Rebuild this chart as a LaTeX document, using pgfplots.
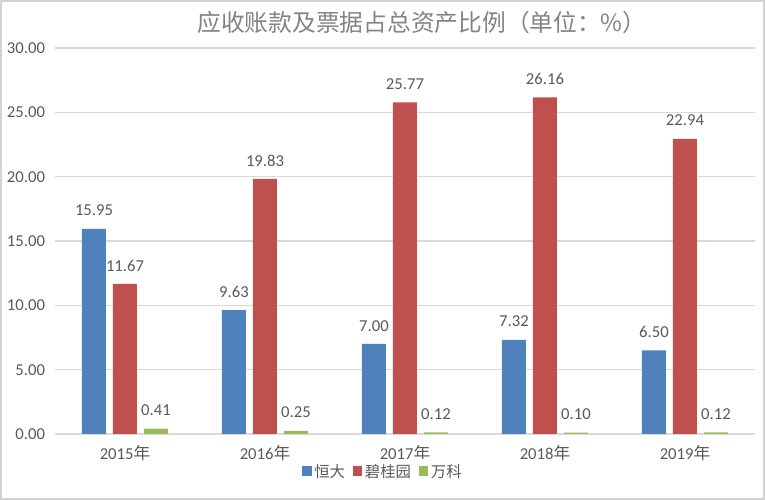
\documentclass[border=0pt]{standalone}
\usepackage{fontspec}
\setmainfont{Carlito}
\newfontfamily\cjk{Noto Sans CJK SC}
\usepackage{pgfplots}
\pgfplotsset{compat=1.18}
\definecolor{cblue}{HTML}{4F81BD}
\definecolor{cred}{HTML}{C0504D}
\definecolor{cgreen}{HTML}{9BBB59}
\definecolor{txt}{HTML}{595959}
\definecolor{gridc}{HTML}{D9D9D9}
\begin{document}
\begin{tikzpicture}[x=1pt,y=1pt]
\path[use as bounding box] (0,0) rectangle (573.75,375);
\draw[gray!35, line width=1.5pt] (0.75,0.75) rectangle (573,374.25);
\node[font=\cjk\fontsize{17.8}{21}\selectfont, text=txt!75] at (316.5,358.5) {应收账款及票据占总资产比例（单位：\%）};
\begin{axis}[
  at={(41.25pt,49.5pt)}, anchor=south west,
  scale only axis, width=525pt, height=289.5pt,
  xmin=-0.5, xmax=4.5, ymin=0, ymax=30,
  ytick={0,5,10,15,20,25,30},
  yticklabel={\pgfmathprintnumber[fixed,zerofill,precision=2]{\tick}},
  /pgf/number format/assume math mode=true,
  ymajorgrids, grid style={draw=gridc, line width=0.9pt},
  axis line style={draw=none},
  major tick length=0,
  xtick={0,1,2,3,4},
  xticklabels={2015{\cjk 年},2016{\cjk 年},2017{\cjk 年},2018{\cjk 年},2019{\cjk 年}},
  tick label style={font=\fontsize{12.5}{14}\selectfont, text=txt},
  xticklabel style={yshift=-5pt},
  yticklabel style={xshift=-4pt},
  ybar, bar width=18pt,
  nodes near coords={\pgfmathprintnumber[fixed,zerofill,precision=2]{\pgfplotspointmeta}},
  every node near coord/.append style={font=\fontsize{12.5}{14}\selectfont, text=txt, yshift=6pt},
  legend style={at={(0.469,-0.098)}, anchor=center, draw=none, legend columns=3,
    font=\cjk\fontsize{11.5}{13}\selectfont, text=txt,
    /tikz/every even column/.append style={column sep=4pt}},
  legend image code/.code={\fill[#1] (0pt,-3pt) rectangle (7pt,4pt);},
]
\addplot[fill=cblue, draw=none, bar shift=-23.25pt] coordinates {(0,15.95) (1,9.63) (2,7.00) (3,7.32) (4,6.50)};
\addplot[fill=cred, draw=none, bar shift=0pt] coordinates {(0,11.67) (1,19.83) (2,25.77) (3,26.16) (4,22.94)};
\addplot[fill=cgreen, draw=none, bar shift=23.25pt] coordinates {(0,0.41) (1,0.25) (2,0.12) (3,0.10) (4,0.12)};
\legend{恒大,碧桂园,万科}
\end{axis}
\end{tikzpicture}
\end{document}
